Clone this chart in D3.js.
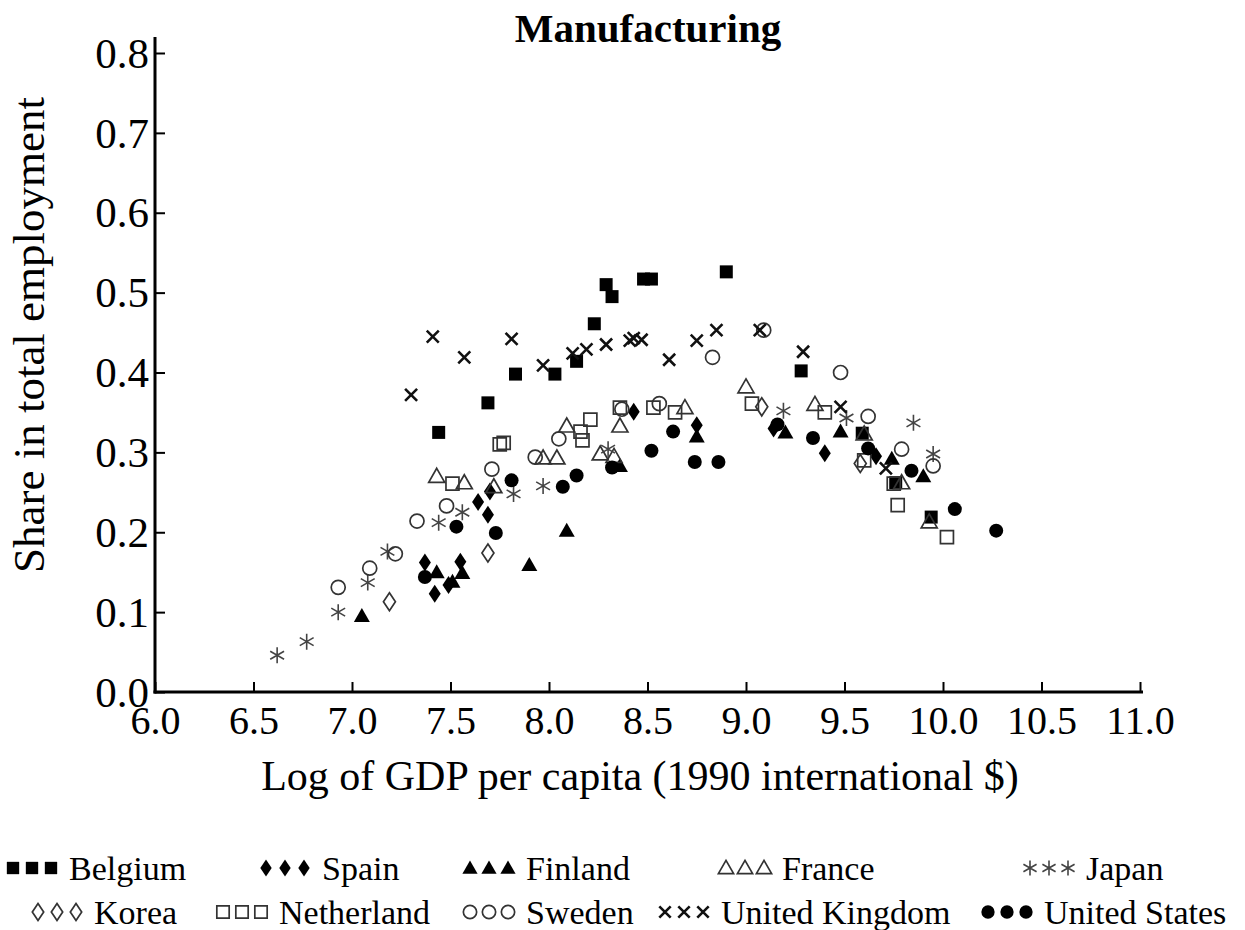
<!DOCTYPE html>
<html lang="en">
<head>
<meta charset="utf-8">
<title>Manufacturing</title>
<script src="https://cdn.jsdelivr.net/npm/d3@7"></script>
<style>
body { margin:0; background:#fff; }
text { font-family: "Liberation Serif", "Times New Roman", serif; fill:#000; }
</style>
</head>
<body>
<div id="main"></div>
<script>

// ---- data: [log GDP per capita, share in total employment] ----
var belgium = [[7.44,0.325],[7.69,0.362],[7.83,0.398],[8.03,0.398],[8.14,0.414],[8.23,0.461],
  [8.29,0.510],[8.32,0.495],[8.48,0.517],[8.52,0.517],[8.90,0.526],[9.28,0.402],[9.59,0.324],
  [9.76,0.262],[9.94,0.219]]
var spain = [[7.37,0.162],[7.42,0.123],[7.49,0.134],[7.55,0.163],[7.64,0.238],[7.69,0.222],
  [7.70,0.251],[8.43,0.351],[8.75,0.334],[9.14,0.330],[9.40,0.299],[9.66,0.295]]
var finland = [[7.05,0.095],[7.43,0.150],[7.51,0.138],[7.56,0.149],[7.90,0.159],[8.09,0.202],
  [8.36,0.283],[8.75,0.320],[9.20,0.325],[9.48,0.326],[9.74,0.292],[9.90,0.270]]
var france = [[7.43,0.270],[7.57,0.262],[7.72,0.257],[7.97,0.293],[8.04,0.293],[8.09,0.333],
  [8.26,0.298],[8.33,0.295],[8.36,0.333],[8.69,0.356],[9.00,0.382],[9.35,0.360],[9.60,0.323],
  [9.79,0.262],[9.93,0.213]]
var japan = [[6.62,0.046],[6.77,0.063],[6.93,0.100],[7.08,0.137],[7.18,0.176],[7.44,0.212],
  [7.56,0.225],[7.82,0.248],[7.97,0.258],[8.30,0.304],[9.19,0.352],[9.51,0.343],[9.85,0.337],
  [9.95,0.298]]
var korea = [[7.19,0.113],[7.69,0.174],[9.08,0.357],[9.58,0.286]]
var netherland = [[7.51,0.261],[7.75,0.310],[7.77,0.312],[8.16,0.326],[8.17,0.315],[8.21,0.341],
  [8.36,0.356],[8.53,0.356],[8.64,0.350],[9.03,0.361],[9.40,0.350],[9.60,0.290],[9.75,0.261],
  [9.77,0.234],[10.02,0.194]]
var sweden = [[6.93,0.131],[7.09,0.155],[7.22,0.173],[7.33,0.214],[7.48,0.233],[7.71,0.279],
  [7.93,0.294],[8.05,0.317],[8.37,0.354],[8.56,0.361],[8.83,0.419],[9.09,0.453],[9.48,0.400],
  [9.62,0.345],[9.79,0.304],[9.95,0.283]]
var uk = [[7.30,0.372],[7.41,0.445],[7.57,0.419],[7.81,0.442],[7.97,0.409],[8.12,0.424],
  [8.19,0.429],[8.29,0.435],[8.41,0.440],[8.43,0.443],[8.47,0.441],[8.61,0.416],[8.75,0.440],
  [8.85,0.453],[9.07,0.453],[9.29,0.426],[9.48,0.357],[9.71,0.280]]
var us = [[7.37,0.144],[7.53,0.207],[7.73,0.199],[7.81,0.265],[8.07,0.257],[8.14,0.271],
  [8.32,0.281],[8.52,0.302],[8.63,0.326],[8.74,0.288],[8.86,0.288],[9.16,0.335],[9.34,0.318],
  [9.62,0.305],[9.84,0.277],[10.06,0.229],[10.27,0.202]]

var xTicks = [6.0,6.5,7.0,7.5,8.0,8.5,9.0,9.5,10.0,10.5,11.0]
var yTicks = [0.0,0.1,0.2,0.3,0.4,0.5,0.6,0.7,0.8]

var series = [
  {name:"Belgium",        data:belgium,    mark:"square",   fill:true},
  {name:"Spain",          data:spain,      mark:"diamond",  fill:true},
  {name:"Finland",        data:finland,    mark:"triangle", fill:true},
  {name:"France",         data:france,     mark:"triangle", fill:false},
  {name:"Japan",          data:japan,      mark:"asterisk", fill:false},
  {name:"Korea",          data:korea,      mark:"diamond",  fill:false},
  {name:"Netherland",     data:netherland, mark:"square",   fill:false},
  {name:"Sweden",         data:sweden,     mark:"circle",   fill:false},
  {name:"United Kingdom", data:uk,         mark:"cross",    fill:false},
  {name:"United States",  data:us,         mark:"circle",   fill:true}
]

// legend slots (row, x of first marker)
var legendX = [5,258,462,718,1022, 30,215,462,657,980]
var legendRow = [0,0,0,0,0, 1,1,1,1,1]

var width = 1245, height = 930

var svg = d3.select("#main").append("svg").attr("width",width).attr("height",height)

var x = d3.scaleLinear().domain([6,11]).range([155,1140])
var y = d3.scaleLinear().domain([0,0.8]).range([692,53])

// marker paths, k = scale
function markPath(type,k){
  k = k||1
  if(type=="square"){var s=6.5*k;return "M"+(-s)+","+(-s)+"h"+2*s+"v"+2*s+"h"+(-2*s)+"Z"}
  if(type=="diamond"){var w=6*k,h=9*k;return "M0,"+(-h)+"L"+w+",0L0,"+h+"L"+(-w)+",0Z"}
  if(type=="triangle"){var a=8*k;return "M0,"+(-a)+"L"+a+","+(a*0.75)+"L"+(-a)+","+(a*0.75)+"Z"}
  if(type=="circle"){var r=7*k;return "M"+r+",0A"+r+","+r+",0,1,1,"+(-r)+",0A"+r+","+r+",0,1,1,"+r+",0Z"}
  if(type=="cross"){var c=6*k;return "M"+(-c)+","+(-c)+"L"+c+","+c+"M"+(-c)+","+c+"L"+c+","+(-c)}
  if(type=="asterisk"){
    var r=8*k, p=""
    ;[90,30,150].forEach(function(a){
      var dx=r*Math.cos(a*Math.PI/180), dy=r*Math.sin(a*Math.PI/180)
      p+="M"+(-dx)+","+(-dy)+"L"+dx+","+dy
    })
    return p
  }
}

function styleMark(sel,s){
  if(s.mark=="cross"){
    sel.attr("fill","none").attr("stroke","#111").attr("stroke-width",2.6)
  } else if(s.mark=="asterisk"){
    sel.attr("fill","none").attr("stroke","#444").attr("stroke-width",1.6)
  } else if(s.fill){
    sel.attr("fill","#000").attr("stroke","none")
  } else {
    sel.attr("fill","none").attr("stroke","#333").attr("stroke-width",1.7)
  }
}

// axes
var xAxis = d3.axisBottom(x).tickValues(xTicks).tickFormat(d3.format(".1f")).tickSize(-10).tickSizeOuter(0)
var yAxis = d3.axisLeft(y).tickValues(yTicks).tickFormat(d3.format(".1f")).tickSize(-10).tickSizeOuter(0)

var gx = svg.append("g").attr("transform","translate(0,"+y(0)+")").call(xAxis)
gx.select(".domain").remove()
gx.selectAll(".tick line").attr("stroke","#000").attr("stroke-width",2)
gx.selectAll(".tick text").attr("y",14).attr("dy","0.71em")
  .style("font-family","Liberation Serif").style("font-size","40px")

var gy = svg.append("g").attr("transform","translate("+x(6)+",0)").call(yAxis)
gy.select(".domain").remove()
gy.selectAll(".tick line").attr("stroke","#000").attr("stroke-width",2)
gy.selectAll(".tick text").attr("x",-6).attr("dy","0.33em")
  .style("font-family","Liberation Serif").style("font-size","43px")

svg.append("line").attr("x1",x(6)).attr("x2",x(6)).attr("y1",y(0.8)-16).attr("y2",y(0)+1.5)
  .attr("stroke","#000").attr("stroke-width",3)
svg.append("line").attr("x1",x(6)-1.5).attr("x2",x(11)+3).attr("y1",y(0)).attr("y2",y(0))
  .attr("stroke","#000").attr("stroke-width",3)

// titles
svg.append("text").attr("x",648).attr("y",42).attr("text-anchor","middle")
  .style("font-size","41px").style("font-weight","bold").text("Manufacturing")
svg.append("text").attr("x",640).attr("y",790).attr("text-anchor","middle")
  .style("font-size","42px").text("Log of GDP per capita (1990 international $)")
svg.append("text").attr("transform","translate(44,335) rotate(-90)").attr("text-anchor","middle")
  .style("font-size","45px").text("Share in total employment")

// points
series.forEach(function(s){
  var g = svg.append("g").attr("class","series")
  var pts = g.selectAll("path").data(s.data).enter().append("path")
    .attr("transform",function(d){return "translate("+x(d[0])+","+y(d[1])+")"})
    .attr("d",markPath(s.mark,1))
  styleMark(pts,s)
})

// legend
series.forEach(function(s,i){
  var rowY = legendRow[i]==0 ? 868 : 912
  var g = svg.append("g").attr("transform","translate("+legendX[i]+","+rowY+")")
  var m = g.selectAll("path").data([0,1,2]).enter().append("path")
    .attr("transform",function(d){return "translate("+(8+d*19)+",0)"})
    .attr("d",markPath(s.mark,0.95))
  styleMark(m,s)
  g.append("text").attr("x",64).attr("dy","0.35em").style("font-size","34px").text(s.name)
})

</script>
</body>
</html>
